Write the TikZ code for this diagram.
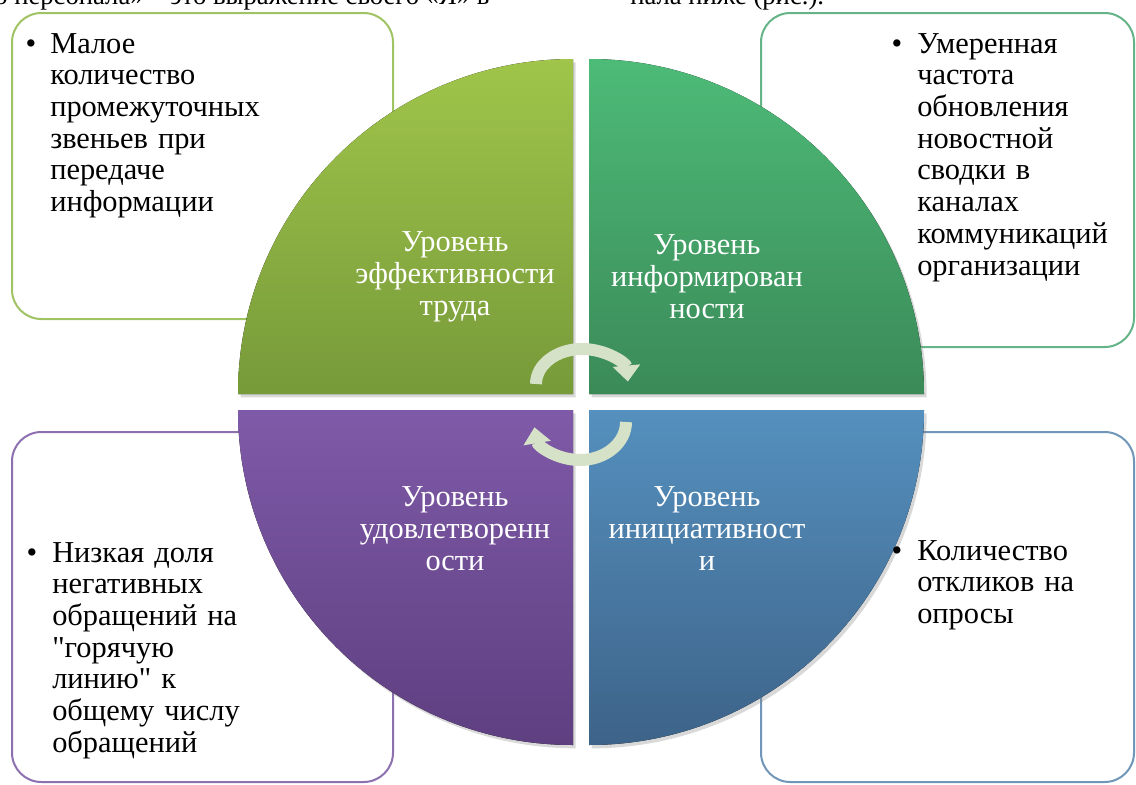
\documentclass[tikz,border=0pt]{standalone}
\usepackage{fontspec}
\setmainfont{Liberation Serif}[Ligatures=TeXOff]
\usetikzlibrary{arrows.meta,shadows,positioning}
\definecolor{grnA}{RGB}{160,197,74}
\definecolor{grnB}{RGB}{119,154,58}
\definecolor{emA}{RGB}{77,187,120}
\definecolor{emB}{RGB}{59,138,88}
\definecolor{vioA}{RGB}{127,90,168}
\definecolor{vioB}{RGB}{94,63,128}
\definecolor{bluA}{RGB}{85,144,190}
\definecolor{bluB}{RGB}{61,99,137}
\definecolor{grnL}{RGB}{160,195,100}
\definecolor{emL}{RGB}{100,180,135}
\definecolor{vioL}{RGB}{140,112,176}
\definecolor{bluL}{RGB}{112,150,186}
\definecolor{cycC}{RGB}{214,226,200}
\tikzset{  infobox/.style={line width=1.5pt,rounded corners=22pt,fill=white},
  quart/.style={drop shadow={opacity=.3,shadow xshift=2pt,shadow yshift=-2.5pt}},
  lvltxt/.style={text=white,align=center,inner sep=0pt,font=\fontsize{22.8}{24}\selectfont},
  bultxt/.style={anchor=base west,text width=#1,align=left,inner sep=0pt,font=\fontsize{22.8}{23.8}\selectfont},
  bulmark/.style={anchor=base,inner sep=0pt,font=\fontsize{22.8}{24}\selectfont},
  headtxt/.style={anchor=base west,inner sep=0pt,font=\fontsize{20}{24}\selectfont},
  cycarr/.style={line width=9pt,cycC,-{Triangle[length=12pt,width=20pt]}} }

\begin{document}
\begin{tikzpicture}[x=0.75pt,y=-0.75pt]
   \useasboundingbox (0,0) rectangle (1136,785);
   \clip (0,0) rectangle (1136,785);
   % heading line, cut off by the page
   \node[headtxt] (capl) at (-6,5) {о персонала» – это выражение своего «Я» в};
   \node[headtxt] (capr) at (630,5) {нала ниже (рис.).};
   % side boxes
   \draw[infobox,draw=grnL] (12,13) rectangle (393,319);
   \draw[infobox,draw=emL] (761,13) rectangle (1134,347);
   \draw[infobox,draw=vioL] (12,432) rectangle (393,782);
   \draw[infobox,draw=bluL] (761,432) rectangle (1134,782);
   % quarters of the circle
   \fill[quart,top color=grnA,bottom color=grnB] (573,394) -- (238,394) arc[start angle=180,end angle=270,radius=335] -- cycle;
   \fill[quart,top color=emA,bottom color=emB] (589,394) -- (589,59) arc[start angle=270,end angle=360,radius=335] -- cycle;
   \fill[quart,top color=vioA,bottom color=vioB] (573,410) -- (238,410) arc[start angle=180,end angle=90,radius=335] -- cycle;
   \fill[quart,top color=bluA,bottom color=bluB] (589,410) -- (924,410) arc[start angle=0,end angle=90,radius=335] -- cycle;
   \node[lvltxt] (lvtl) at (455,277) {Уровень\\эффективности\\труда};
   \node[lvltxt] (lvtr) at (707,277) {Уровень\\информирован\\ности};
   \node[lvltxt] (lvbl) at (455,529) {Уровень\\удовлетворенн\\ости};
   \node[lvltxt] (lvbr) at (707,529) {Уровень\\инициативност\\и};
   % cycle arrows
   \draw[cycarr] (536,384) arc[start angle=180,end angle=356,x radius=46,y radius=35];
   \draw[cycarr] (626,422) arc[start angle=0,end angle=172,x radius=46,y radius=38];
   % box texts
   \node[bulmark] (bA) at (31,53) {•};
   \node[bultxt=220pt] (tA) at (50,53) {Малое\\количество\\промежуточных\\звеньев при\\передаче\\информации};
   \node[bulmark] (bB) at (897,53) {•};
   \node[bultxt=220pt] (tB) at (917,53) {Умеренная\\частота\\обновления\\новостной\\сводки в\\каналах\\коммуникаций\\организации};
   \node[bulmark] (bC) at (32,562) {•};
   \node[bultxt=220pt] (tC) at (52,562) {Низкая доля\\негативных\\обращений на\\"горячую\\линию" к\\общему числу\\обращений};
   \node[bulmark] (bD) at (897,560) {•};
   \node[bultxt=220pt] (tD) at (917,560) {Количество\\откликов на\\опросы};
\end{tikzpicture}
\end{document}
